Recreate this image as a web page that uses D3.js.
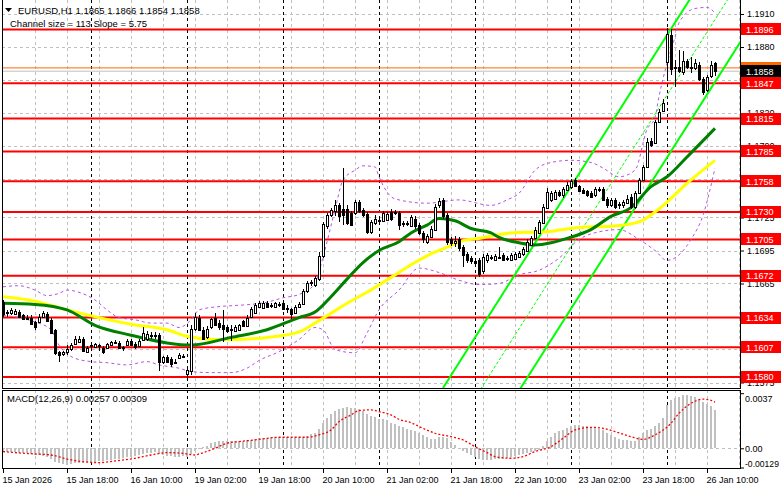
<!DOCTYPE html>
<html><head><meta charset="utf-8">
<script src="https://cdn.jsdelivr.net/npm/d3@7"></script>
<style>
body{margin:0;background:#fff;}
svg{display:block;font-family:"Liberation Sans",Arial,sans-serif;}
</style></head><body>
<svg id="c" width="781" height="489"></svg>
<script>
// ---------- DATA ----------
const symbolInfo = "EURUSD,H1  1.1865 1.1866 1.1854 1.1858";
const channelInfo = "Channel size = 113 Slope = 5.75";
const macdInfo = "MACD(12,26,9) 0.00257 0.00309";

const candleOpen = [1.1648,1.1639,1.1638,1.1637,1.1639,1.1636,1.1634,1.1634,1.1630,1.1630,1.1635,1.1637,1.1632,1.1623,1.1603,1.1601,1.1603,1.1605,1.1610,1.1612,
1.1615,1.1603,1.1608,1.1607,1.1609,1.1606,1.1606,1.1609,1.1612,1.1611,1.1607,1.1609,1.1613,1.1610,1.1608,1.1614,1.1615,1.1618,1.1617,1.1618,
1.1594,1.1598,1.1596,1.1593,1.1597,1.1599,1.1583,1.1585,1.1624,1.1634,1.1623,1.1616,1.1625,1.1634,1.1629,1.1627,1.1625,1.1624,1.1622,1.1623,
1.1631,1.1626,1.1635,1.1638,1.1644,1.1643,1.1647,1.1645,1.1644,1.1646,1.1647,1.1643,1.1642,1.1638,1.1644,1.1646,1.1658,1.1665,1.1664,1.1669,
1.1690,1.1717,1.1727,1.1731,1.1736,1.1733,1.1733,1.1729,1.1729,1.1739,1.1732,1.1728,1.1712,1.1720,1.1723,1.1722,1.1723,1.1730,1.1729,1.1729,
1.1720,1.1719,1.1717,1.1724,1.1718,1.1711,1.1703,1.1707,1.1714,1.1736,1.1741,1.1727,1.1705,1.1702,1.1705,1.1698,1.1692,1.1688,1.1685,1.1686,
1.1676,1.1686,1.1689,1.1686,1.1689,1.1691,1.1687,1.1686,1.1687,1.1689,1.1692,1.1695,1.1700,1.1706,1.1711,1.1720,1.1734,1.1741,1.1742,1.1748,
1.1745,1.1750,1.1753,1.1759,1.1754,1.1750,1.1749,1.1747,1.1745,1.1751,1.1751,1.1742,1.1736,1.1741,1.1737,1.1736,1.1738,1.1744,1.1735,1.1747,
1.1759,1.1771,1.1795,1.1793,1.1812,1.1822,1.1866,1.1891,1.1862,1.1862,1.1857,1.1867,1.1862,1.1861,1.1864,1.1851,1.1841,1.1854,1.1865];
const candleHigh = [1.1650,1.1641,1.1643,1.1642,1.1641,1.1637,1.1636,1.1636,1.1631,1.1637,1.1640,1.1639,1.1634,1.1624,1.1604,1.1604,1.1609,1.1611,1.1617,1.1617,
1.1616,1.1608,1.1610,1.1611,1.1610,1.1608,1.1611,1.1613,1.1614,1.1613,1.1608,1.1615,1.1615,1.1612,1.1615,1.1625,1.1622,1.1621,1.1621,1.1620,
1.1599,1.1600,1.1598,1.1596,1.1602,1.1601,1.1588,1.1627,1.1638,1.1636,1.1625,1.1626,1.1634,1.1638,1.1632,1.1641,1.1627,1.1627,1.1627,1.1628,
1.1632,1.1636,1.1644,1.1647,1.1649,1.1649,1.1649,1.1647,1.1648,1.1648,1.1649,1.1645,1.1643,1.1645,1.1648,1.1660,1.1667,1.1668,1.1672,1.1694,
1.1721,1.1729,1.1734,1.1741,1.1738,1.1770,1.1736,1.1731,1.1741,1.1741,1.1734,1.1730,1.1723,1.1727,1.1725,1.1731,1.1730,1.1733,1.1732,1.1731,
1.1722,1.1722,1.1727,1.1726,1.1720,1.1713,1.1710,1.1717,1.1737,1.1743,1.1743,1.1729,1.1707,1.1708,1.1707,1.1700,1.1694,1.1690,1.1687,1.1688,
1.1692,1.1693,1.1691,1.1692,1.1698,1.1693,1.1690,1.1693,1.1694,1.1695,1.1698,1.1705,1.1708,1.1716,1.1723,1.1737,1.1752,1.1749,1.1750,1.1750,
1.1753,1.1757,1.1760,1.1761,1.1755,1.1752,1.1750,1.1749,1.1753,1.1753,1.1753,1.1744,1.1743,1.1743,1.1739,1.1741,1.1745,1.1746,1.1749,1.1761,
1.1773,1.1797,1.1797,1.1814,1.1824,1.1833,1.1897,1.1896,1.1868,1.1877,1.1876,1.1869,1.1871,1.1869,1.1866,1.1853,1.1855,1.1867,1.1866];
const candleLow = [1.1635,1.1635,1.1636,1.1636,1.1634,1.1632,1.1632,1.1627,1.1623,1.1629,1.1634,1.1630,1.1619,1.1600,1.1594,1.1599,1.1600,1.1604,1.1609,1.1611,
1.1603,1.1602,1.1606,1.1606,1.1604,1.1601,1.1605,1.1608,1.1610,1.1605,1.1604,1.1608,1.1608,1.1605,1.1607,1.1613,1.1613,1.1615,1.1615,1.1585,
1.1592,1.1593,1.1589,1.1592,1.1596,1.1597,1.1578,1.1582,1.1622,1.1622,1.1614,1.1615,1.1624,1.1626,1.1623,1.1612,1.1620,1.1613,1.1621,1.1622,
1.1625,1.1625,1.1634,1.1637,1.1643,1.1642,1.1643,1.1643,1.1643,1.1644,1.1641,1.1638,1.1633,1.1637,1.1643,1.1645,1.1656,1.1663,1.1662,1.1667,
1.1688,1.1715,1.1725,1.1726,1.1721,1.1718,1.1718,1.1717,1.1727,1.1729,1.1725,1.1710,1.1710,1.1718,1.1720,1.1721,1.1722,1.1722,1.1727,1.1714,
1.1716,1.1717,1.1716,1.1715,1.1709,1.1702,1.1701,1.1706,1.1713,1.1734,1.1724,1.1700,1.1699,1.1698,1.1695,1.1680,1.1684,1.1683,1.1682,1.1671,
1.1674,1.1684,1.1686,1.1685,1.1687,1.1685,1.1685,1.1685,1.1686,1.1688,1.1690,1.1694,1.1699,1.1705,1.1710,1.1719,1.1733,1.1739,1.1741,1.1744,
1.1743,1.1749,1.1752,1.1753,1.1748,1.1746,1.1744,1.1743,1.1744,1.1748,1.1740,1.1734,1.1735,1.1733,1.1733,1.1734,1.1737,1.1733,1.1733,1.1746,
1.1758,1.1770,1.1789,1.1792,1.1811,1.1821,1.1850,1.1855,1.1844,1.1856,1.1855,1.1860,1.1856,1.1859,1.1849,1.1836,1.1839,1.1852,1.1854];
const candleClose = [1.1637,1.1638,1.1641,1.1640,1.1635,1.1633,1.1634,1.1628,1.1625,1.1635,1.1638,1.1631,1.1620,1.1602,1.1600,1.1603,1.1605,1.1609,1.1615,1.1615,
1.1604,1.1606,1.1609,1.1610,1.1608,1.1603,1.1610,1.1612,1.1611,1.1606,1.1606,1.1613,1.1609,1.1607,1.1613,1.1620,1.1619,1.1617,1.1618,1.1594,
1.1598,1.1594,1.1592,1.1594,1.1600,1.1598,1.1586,1.1624,1.1635,1.1623,1.1615,1.1624,1.1633,1.1627,1.1625,1.1624,1.1622,1.1623,1.1625,1.1627,
1.1626,1.1634,1.1642,1.1645,1.1647,1.1647,1.1644,1.1645,1.1647,1.1645,1.1642,1.1642,1.1637,1.1644,1.1646,1.1658,1.1665,1.1666,1.1670,1.1690,
1.1719,1.1727,1.1732,1.1736,1.1726,1.1727,1.1720,1.1718,1.1739,1.1731,1.1727,1.1712,1.1721,1.1724,1.1722,1.1729,1.1728,1.1724,1.1730,1.1718,
1.1719,1.1720,1.1725,1.1717,1.1711,1.1705,1.1708,1.1715,1.1735,1.1740,1.1726,1.1703,1.1702,1.1704,1.1697,1.1691,1.1686,1.1685,1.1684,1.1674,
1.1689,1.1691,1.1688,1.1690,1.1689,1.1686,1.1688,1.1691,1.1692,1.1693,1.1696,1.1703,1.1706,1.1714,1.1721,1.1735,1.1748,1.1747,1.1748,1.1745,
1.1751,1.1755,1.1758,1.1754,1.1749,1.1747,1.1745,1.1744,1.1751,1.1750,1.1741,1.1736,1.1741,1.1735,1.1736,1.1739,1.1742,1.1735,1.1747,1.1759,
1.1771,1.1794,1.1791,1.1812,1.1821,1.1829,1.1892,1.1860,1.1861,1.1858,1.1867,1.1862,1.1861,1.1865,1.1851,1.1839,1.1853,1.1864,1.1858];

// moving averages (sampled bar index -> price)
const maGreenBars = [0,8,16,23,32,41,47,57,66,74,78,82,86,90,94,99,102,106,109,113,117,122,124,129,133,137,141,147,152,157,162,166,171,178];
const maGreenVals = [1.1647,1.1646,1.1641,1.1627,1.1618,1.1611,1.1609,1.1616,1.1623,1.1634,1.1639,1.1653,1.1669,1.1684,1.1695,1.1703,1.1711,1.1718,1.1724,1.1722,1.1715,1.1711,1.1707,1.1702,1.1700,1.1702,1.1706,1.1714,1.1726,1.1734,1.1753,1.1762,1.1780,1.1806];
const maYellowBars = [0,8,16,24,32,41,46,53,57,66,74,78,82,86,91,95,99,102,107,111,115,119,127,136,144,152,159,163,166,171,178];
const maYellowVals = [1.1653,1.1649,1.1641,1.1634,1.1628,1.1623,1.1617,1.1614,1.1614,1.1616,1.1621,1.1629,1.1638,1.1647,1.1657,1.1666,1.1675,1.1682,1.1692,1.1698,1.1704,1.1706,1.1711,1.1712,1.1716,1.1717,1.1721,1.1730,1.1739,1.1756,1.1777];

// bands (dashed violet)
const bandUpperBars = [0,4,8,11,14,16,19,23,26,29,33,37,41,44,47,49,54,58,62,66,70,74,78,80,83,85,88,90,93,94,97,99,106,114,122,126,129,133,137,142,147,150,154,158,161,163,164,166,168,169,173,176,178];
const bandUpperVals = [1.1662,1.1663,1.1659,1.1654,1.1656,1.1659,1.1657,1.1650,1.1641,1.1634,1.1632,1.1629,1.1629,1.1625,1.1632,1.1641,1.1644,1.1645,1.1646,1.1648,1.1652,1.1655,1.1665,1.1689,1.1732,1.1759,1.1768,1.1772,1.1771,1.1762,1.1744,1.1741,1.1738,1.1741,1.1736,1.1741,1.1747,1.1768,1.1775,1.1777,1.1775,1.1770,1.1762,1.1768,1.1805,1.1816,1.1835,1.1865,1.1889,1.1902,1.1915,1.1916,1.1911];
const bandLowerBars = [0,4,8,12,14,18,22,26,31,36,39,44,47,52,57,61,64,69,74,78,80,83,88,91,94,99,104,109,114,119,124,129,134,139,144,149,154,159,163,166,169,172,175,178];
const bandLowerVals = [1.1636,1.1634,1.1630,1.1623,1.1609,1.1597,1.1594,1.1593,1.1591,1.1594,1.1591,1.1588,1.1585,1.1584,1.1584,1.1588,1.1595,1.1603,1.1614,1.1625,1.1623,1.1605,1.1602,1.1620,1.1641,1.1659,1.1679,1.1675,1.1668,1.1664,1.1665,1.1673,1.1677,1.1688,1.1705,1.1712,1.1714,1.1705,1.1695,1.1686,1.1691,1.1705,1.1727,1.1770];

// regression channel (bar index -> price at both ends)
const channelBars = [110, 185];
const channelUpper = [1.1570, 1.19995];
const channelMiddle = [1.15149, 1.19451];
const channelLower = [1.14587, 1.18883];

// horizontal levels
const redLevels = [1.1896,1.1847,1.1815,1.1785,1.1758,1.1730,1.1705,1.1672,1.1634,1.1607,1.1580];
const askPrice = 1.1861, bidPrice = 1.1858;

// MACD
const macdHist = [-0.00022,-0.00022,-0.00025,-0.00027,-0.00029,-0.00031,-0.00034,-0.00038,-0.00045,-0.00047,-0.00052,-0.00060,-0.00074,-0.00090,-0.00101,-0.00105,-0.00110,-0.00105,-0.00101,-0.00096,
-0.00096,-0.00094,-0.00092,-0.00090,-0.00087,-0.00085,-0.00081,-0.00076,-0.00072,-0.00069,-0.00065,-0.00060,-0.00056,-0.00052,-0.00045,-0.00038,-0.00031,-0.00029,-0.00027,-0.00038,
-0.00045,-0.00049,-0.00054,-0.00056,-0.00056,-0.00054,-0.00056,-0.00038,-0.00016,0.00000,0.00011,0.00018,0.00034,0.00043,0.00047,0.00049,0.00049,0.00047,0.00049,0.00052,
0.00052,0.00054,0.00058,0.00063,0.00067,0.00069,0.00072,0.00074,0.00076,0.00076,0.00076,0.00074,0.00072,0.00074,0.00076,0.00078,0.00085,0.00094,0.00101,0.00128,
0.00168,0.00202,0.00231,0.00251,0.00262,0.00271,0.00276,0.00273,0.00271,0.00262,0.00249,0.00231,0.00217,0.00208,0.00199,0.00195,0.00190,0.00172,0.00161,0.00150,
0.00141,0.00132,0.00123,0.00116,0.00105,0.00090,0.00074,0.00060,0.00065,0.00074,0.00078,0.00067,0.00045,0.00022,0.00004,-0.00016,-0.00034,-0.00047,-0.00060,-0.00069,
-0.00078,-0.00078,-0.00076,-0.00074,-0.00072,-0.00069,-0.00065,-0.00060,-0.00054,-0.00047,-0.00040,-0.00034,-0.00027,-0.00020,-0.00011,0.00016,0.00052,0.00078,0.00101,0.00114,
0.00125,0.00137,0.00148,0.00157,0.00157,0.00152,0.00148,0.00143,0.00139,0.00132,0.00123,0.00105,0.00087,0.00074,0.00065,0.00058,0.00054,0.00049,0.00052,0.00074,
0.00101,0.00123,0.00132,0.00150,0.00172,0.00202,0.00291,0.00325,0.00338,0.00347,0.00356,0.00356,0.00352,0.00343,0.00329,0.00311,0.00298,0.00284,0.00257];
const signalBars = [0,3,8,12,16,20,24,28,33,37,41,45,48,49,53,56,59,63,66,69,73,76,79,82,84,87,89,92,94,97,99,102,105,108,112,115,118,121,123,127,130,133,137,140,143,147,150,153,157,160,163,167,169,172,175,177,178];
const signalVals = [-0.00022,-0.00029,-0.00038,-0.00045,-0.00072,-0.00090,-0.00096,-0.00085,-0.00067,-0.00045,-0.00029,-0.00034,-0.00045,-0.00038,0.00000,0.00034,0.00045,0.00056,0.00067,0.00074,0.00074,0.00074,0.00090,0.00123,0.00179,0.00224,0.00253,0.00258,0.00246,0.00224,0.00195,0.00172,0.00134,0.00101,0.00078,0.00056,0.00011,-0.00029,-0.00056,-0.00067,-0.00056,-0.00022,0.00011,0.00067,0.00123,0.00141,0.00134,0.00112,0.00078,0.00060,0.00090,0.00168,0.00235,0.00302,0.00330,0.00322,0.00309];

// axes
const priceTicks = [1.1910,1.1880,1.1850,1.1820,1.1790,1.1760,1.1725,1.1695,1.1665,1.1635,1.1605,1.1575];
const macdTicks = [0.0037, 0, -0.00129];
const macdTickLabels = ["0.0037","0.00","-0.00129"];
const timeTickBars = [0,16,32,48,64,80,96,112,128,144,160,176];
const timeTickLabels = ["15 Jan 2026","15 Jan 18:00","16 Jan 10:00","19 Jan 02:00","19 Jan 18:00","20 Jan 10:00","21 Jan 02:00","21 Jan 18:00","22 Jan 10:00","23 Jan 02:00","23 Jan 18:00","26 Jan 10:00"];
const daySeparatorBars = [22,46,70,94,118,142,166];
const gridBars = [8,16,24,32,40,48,56,64,72,80,88,96,104,112,120,128,136,144,152,160,168,176,184];

// ---------- LAYOUT ----------
const L = 2, R = 740, T = 0, B = 388, MT = 390, MB = 468;
const svg = d3.select("#c");
const x = d3.scaleLinear().domain([0, 178]).range([3, 715]);
const y = d3.scaleLinear().domain([1.1575, 1.1910]).range([382.5, 14]);
const ym = d3.scaleLinear().domain([-0.00129, 0.0037]).range([467.5, 393.2]);

const defs = svg.append("defs");
defs.append("clipPath").attr("id","cm").append("rect").attr("x",L).attr("y",T).attr("width",R-L).attr("height",B-T);
defs.append("clipPath").attr("id","cd").append("rect").attr("x",L).attr("y",MT).attr("width",R-L).attr("height",MB-MT);

svg.append("rect").attr("width",781).attr("height",489).attr("fill","#fff");

// grid
const grid = svg.append("g").attr("shape-rendering","crispEdges");
gridBars.forEach(b=>{
  const gx = Math.round(x(b))+0.5;
  [[T,B],[MT,MB]].forEach(([a,c])=>grid.append("line").attr("x1",gx).attr("x2",gx).attr("y1",a).attr("y2",c)
    .attr("stroke","#c0c0c0").attr("stroke-dasharray","3,3"));
});
priceTicks.forEach(p=>{
  const gy = Math.round(y(p))+0.5;
  grid.append("line").attr("x1",L).attr("x2",R).attr("y1",gy).attr("y2",gy).attr("stroke","#c0c0c0").attr("stroke-dasharray","3,3");
});
grid.append("line").attr("x1",L).attr("x2",R).attr("y1",Math.round(ym(0))+0.5).attr("y2",Math.round(ym(0))+0.5)
  .attr("stroke","#c0c0c0").attr("stroke-dasharray","3,3");
daySeparatorBars.forEach(b=>{
  const gx = Math.round(x(b))+0.5;
  [[T,B],[MT,MB]].forEach(([a,c])=>grid.append("line").attr("x1",gx).attr("x2",gx).attr("y1",a).attr("y2",c)
    .attr("stroke","#000").attr("stroke-dasharray","3,3"));
});

// main panel content
const gm = svg.append("g").attr("clip-path","url(#cm)");
gm.append("line").attr("x1",L).attr("x2",R).attr("y1",y(askPrice)).attr("y2",y(askPrice)).attr("stroke","#ff6a00").attr("stroke-width",1);
gm.append("line").attr("x1",L).attr("x2",R).attr("y1",y(bidPrice)).attr("y2",y(bidPrice)).attr("stroke","#c0c0c0").attr("stroke-width",1);
redLevels.forEach(p=>gm.append("line").attr("x1",L).attr("x2",R).attr("y1",y(p)).attr("y2",y(p)).attr("stroke","#ff0000").attr("stroke-width",2));

const curve = d3.line().curve(d3.curveMonotoneX);
function seriesPts(bars, vals, ys){ return bars.map((b,i)=>[x(b), ys(vals[i])]); }
gm.append("path").attr("d",curve(seriesPts(bandUpperBars,bandUpperVals,y))).attr("fill","none").attr("stroke","#b455e0").attr("stroke-width",1).attr("stroke-dasharray","3,3");
gm.append("path").attr("d",curve(seriesPts(bandLowerBars,bandLowerVals,y))).attr("fill","none").attr("stroke","#b455e0").attr("stroke-width",1).attr("stroke-dasharray","3,3");

const straight = d3.line();
gm.append("path").attr("d",straight(seriesPts(channelBars,channelUpper,y))).attr("stroke","#00ff00").attr("stroke-width",2).attr("fill","none");
gm.append("path").attr("d",straight(seriesPts(channelBars,channelMiddle,y))).attr("stroke","#00ff00").attr("stroke-width",1).attr("stroke-dasharray","3,2").attr("fill","none");
gm.append("path").attr("d",straight(seriesPts(channelBars,channelLower,y))).attr("stroke","#00ff00").attr("stroke-width",2).attr("fill","none");

gm.append("path").attr("d",curve(seriesPts(maYellowBars,maYellowVals,y))).attr("fill","none").attr("stroke","#ffff00").attr("stroke-width",3);
gm.append("path").attr("d",curve(seriesPts(maGreenBars,maGreenVals,y))).attr("fill","none").attr("stroke","#008000").attr("stroke-width",3);

// candles
const gc = gm.append("g").attr("shape-rendering","crispEdges");
candleClose.forEach((c,i)=>{
  const o = candleOpen[i], h = candleHigh[i], l = candleLow[i];
  const X = Math.round(x(i));
  const yh = Math.round(y(h)), yl = Math.round(y(l));
  gc.append("rect").attr("x",X).attr("y",yh).attr("width",1).attr("height",Math.max(1,yl-yh)).attr("fill","#000");
  const top = Math.round(y(Math.max(o,c))), bot = Math.round(y(Math.min(o,c)));
  const hh = Math.max(1, bot-top);
  gc.append("rect").attr("x",X-1).attr("y",top).attr("width",3).attr("height",hh+1).attr("fill","#000");
  if (c > o && hh > 1) gc.append("rect").attr("x",X).attr("y",top+1).attr("width",1).attr("height",hh-1).attr("fill","#fff");
});

// MACD panel
const gd = svg.append("g").attr("clip-path","url(#cd)");
const gh = gd.append("g").attr("shape-rendering","crispEdges");
macdHist.forEach((v,i)=>{
  const X = Math.round(x(i));
  const y0 = Math.round(ym(0)), y1 = Math.round(ym(v));
  gh.append("rect").attr("x",X-1).attr("y",Math.min(y0,y1)).attr("width",2).attr("height",Math.max(1,Math.abs(y1-y0))).attr("fill","#c0c0c0");
});
gd.append("path").attr("d",curve(seriesPts(signalBars,signalVals,ym))).attr("fill","none").attr("stroke","#ff0000").attr("stroke-width",1.3).attr("stroke-dasharray","2,2");

// frames
const fr = svg.append("g").attr("shape-rendering","crispEdges").attr("fill","none").attr("stroke","#000");
fr.append("line").attr("x1",L+0.5).attr("x2",L+0.5).attr("y1",0).attr("y2",B);
fr.append("line").attr("x1",R+0.5).attr("x2",R+0.5).attr("y1",0).attr("y2",B+1);
fr.append("line").attr("x1",L).attr("x2",R+1).attr("y1",B+0.5).attr("y2",B+0.5);
fr.append("rect").attr("x",L+0.5).attr("y",MT+0.5).attr("width",R-L).attr("height",MB-MT);

// axes
const fontSize = 9;
const pa = svg.append("g").attr("transform",`translate(${R+1},0)`)
  .call(d3.axisRight(y).tickValues(priceTicks).tickSize(3).tickPadding(3).tickFormat(d3.format(".4f")));
pa.select(".domain").remove();
pa.selectAll("text").attr("font-size",fontSize).attr("fill","#000").attr("font-family","Liberation Sans, Arial, sans-serif");

const ma = svg.append("g").attr("transform",`translate(${R+1},0)`)
  .call(d3.axisRight(ym).tickValues(macdTicks).tickSize(3).tickPadding(1).tickFormat((d,i)=>macdTickLabels[i]));
ma.select(".domain").remove();
ma.selectAll("text").attr("font-size",fontSize).attr("fill","#000").attr("font-family","Liberation Sans, Arial, sans-serif");
ma.selectAll(".tick").filter((d,i)=>i===0).select("text").attr("dy","0.9em");
ma.selectAll(".tick").filter((d,i)=>i===2).select("text").attr("dy","-0.1em").attr("font-size",8.6);

const ta = svg.append("g").attr("transform",`translate(0,${MB+1})`)
  .call(d3.axisBottom(x).tickValues(timeTickBars).tickSize(4).tickPadding(2).tickFormat((d,i)=>timeTickLabels[i]));
ta.select(".domain").remove();
ta.selectAll("text").attr("font-size",fontSize).attr("fill","#000").attr("text-anchor","start").attr("dx","-1").attr("dy","0.9em")
  .attr("font-family","Liberation Sans, Arial, sans-serif");

// level labels
const lab = svg.append("g");
function priceBox(p, fill, txt){
  const cy = y(p);
  lab.append("rect").attr("x",R+1).attr("y",Math.round(cy)-6).attr("width",781-R-1).attr("height",12).attr("fill",fill);
  lab.append("text").attr("x",R+6).attr("y",cy+3.3).attr("font-size",fontSize).attr("fill","#fff").text(txt);
}
priceBox(askPrice, "#ff6a00", askPrice.toFixed(4));
priceBox(bidPrice, "#000", bidPrice.toFixed(4));
redLevels.forEach(p=>priceBox(p, "#ff0000", p.toFixed(4)));

// header texts
svg.append("path").attr("d","M5,8 L12,8 L8.5,12 Z").attr("fill","#000");
svg.append("text").attr("x",18).attr("y",14).attr("font-size",9.5).attr("fill","#000").text(symbolInfo);
svg.append("text").attr("x",10).attr("y",27).attr("font-size",9.5).attr("fill","#000").text(channelInfo);
svg.append("text").attr("x",7).attr("y",402).attr("font-size",9.5).attr("fill","#000").text(macdInfo);
</script>
</body></html>
